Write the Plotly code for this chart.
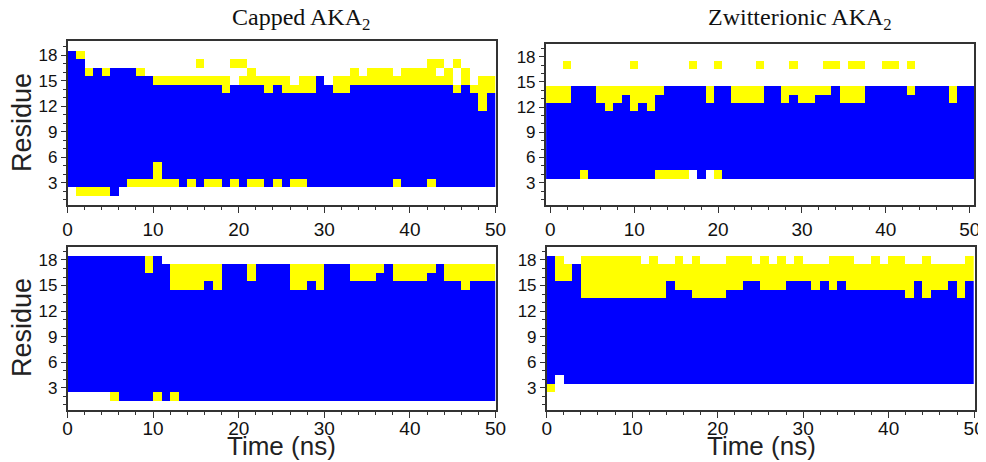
import plotly.graph_objects as go

# Secondary-structure maps: '.' = none (white), 'y' = yellow state, 'b' = blue (helix)
# Rows are residues 19 (top) ... 1 (bottom); columns are time frames (1 ns each).
residues = list(range(19, 0, -1))
state_code = {'.': 0, 'y': 1, 'b': 2}

capped_run1 = [
    "..........""..........""..........""..........""..........",  # 19
    "by........""..........""..........""..........""..........",  # 18
    "bb........"".....y...y""y.........""..........""..yy.y....",  # 17
    "bbybybbby."".........."".y........""...y.yyy.y""yyy.y.y...",  # 16
    "bbbbbbbbbb""yyyyyyyyy.""yyyyyy.yyb"".yyyyyyyyy""yyyyy.y.yy",  # 15
    "bbbbbbbbbb""bbbbbbbbyb""bbbybyyyyb""byybbbbbbb""bbbbbybyyy",  # 14
    "bbbbbbbbbb""bbbbbbbbbb""bbbbbbbbbb""bbbbbbbbbb""bbbbbbbbyb",  # 13
    "bbbbbbbbbb""bbbbbbbbbb""bbbbbbbbbb""bbbbbbbbbb""bbbbbbbbyb",  # 12
    "bbbbbbbbbb""bbbbbbbbbb""bbbbbbbbbb""bbbbbbbbbb""bbbbbbbbbb",  # 11
    "bbbbbbbbbb""bbbbbbbbbb""bbbbbbbbbb""bbbbbbbbbb""bbbbbbbbbb",  # 10
    "bbbbbbbbbb""bbbbbbbbbb""bbbbbbbbbb""bbbbbbbbbb""bbbbbbbbbb",  # 9
    "bbbbbbbbbb""bbbbbbbbbb""bbbbbbbbbb""bbbbbbbbbb""bbbbbbbbbb",  # 8
    "bbbbbbbbbb""bbbbbbbbbb""bbbbbbbbbb""bbbbbbbbbb""bbbbbbbbbb",  # 7
    "bbbbbbbbbb""bbbbbbbbbb""bbbbbbbbbb""bbbbbbbbbb""bbbbbbbbbb",  # 6
    "bbbbbbbbbb""ybbbbbbbbb""bbbbbbbbbb""bbbbbbbbbb""bbbbbbbbbb",  # 5
    "bbbbbbbbbb""ybbbbbbbbb""bbbbbbbbbb""bbbbbbbbbb""bbbbbbbbbb",  # 4
    "bbbbbbbyyy""yyybybyyby""byybybyybb""bbbbbbbbyb""bbybbbbbbb",  # 3
    ".yyyyb....""..........""..........""..........""..........",  # 2
    "..........""..........""..........""..........""..........",  # 1
]

zwit_run1 = [  # 51 columns, centred on 0..50 ns
    "..........""..........""..........""..........""..........""."  ,  # 19
    "..........""..........""..........""..........""..........""."  ,  # 18
    "..y.......""y......y..""y....y...y""...yy.yy..""yy.y......""."  ,  # 17
    "..........""..........""..........""..........""..........""."  ,  # 16
    "..........""..........""..........""..........""..........""."  ,  # 15
    "yyybbbyyyy""yyyybbbbby""bbyyyybbyy""yyyybyyybb""bbbybbbbyb""b"  ,  # 14
    "yyybbbyyyb""yyybbbbbby""bbyyyybbyb""yybbbyyybb""bbbbbbbbyb""b"  ,  # 13
    "bbbbbbbybb""ybybbbbbbb""bbbbbbbbbb""bbbbbbbbbb""bbbbbbbbbb""b"  ,  # 12
    "bbbbbbbbbb""bbbbbbbbbb""bbbbbbbbbb""bbbbbbbbbb""bbbbbbbbbb""b"  ,  # 11
    "bbbbbbbbbb""bbbbbbbbbb""bbbbbbbbbb""bbbbbbbbbb""bbbbbbbbbb""b"  ,  # 10
    "bbbbbbbbbb""bbbbbbbbbb""bbbbbbbbbb""bbbbbbbbbb""bbbbbbbbbb""b"  ,  # 9
    "bbbbbbbbbb""bbbbbbbbbb""bbbbbbbbbb""bbbbbbbbbb""bbbbbbbbbb""b"  ,  # 8
    "bbbbbbbbbb""bbbbbbbbbb""bbbbbbbbbb""bbbbbbbbbb""bbbbbbbbbb""b"  ,  # 7
    "bbbbbbbbbb""bbbbbbbbbb""bbbbbbbbbb""bbbbbbbbbb""bbbbbbbbbb""b"  ,  # 6
    "bbbbbbbbbb""bbbbbbbbbb""bbbbbbbbbb""bbbbbbbbbb""bbbbbbbbbb""b"  ,  # 5
    "bbbbybbbbb""bbbyyyy.b.""ybbbbbbbbb""bbbbbbbbbb""bbbbbbbbbb""b"  ,  # 4
    "..........""..........""..........""..........""..........""."  ,  # 3
    "..........""..........""..........""..........""..........""."  ,  # 2
    "..........""..........""..........""..........""..........""."  ,  # 1
]

capped_run2 = [
    "..........""..........""..........""..........""..........",  # 19
    "bbbbbbbbby""b.........""..........""..........""..........",  # 18
    "bbbbbbbbby""bbyyyyyybb""bybbbbyyyy""bbbyyyybyy""yyybyyyyyy",  # 17
    "bbbbbbbbbb""bbyyyyyybb""bybbbbyyyy""bbbyyybbyy""yybbyyyyyy",  # 16
    "bbbbbbbbbb""bbyyyybybb""bbbbbbyyby""bbbbbbbbbb""bbbbbbybbb",  # 15
    "bbbbbbbbbb""bbbbbbbbbb""bbbbbbbbbb""bbbbbbbbbb""bbbbbbbbbb",  # 14
    "bbbbbbbbbb""bbbbbbbbbb""bbbbbbbbbb""bbbbbbbbbb""bbbbbbbbbb",  # 13
    "bbbbbbbbbb""bbbbbbbbbb""bbbbbbbbbb""bbbbbbbbbb""bbbbbbbbbb",  # 12
    "bbbbbbbbbb""bbbbbbbbbb""bbbbbbbbbb""bbbbbbbbbb""bbbbbbbbbb",  # 11
    "bbbbbbbbbb""bbbbbbbbbb""bbbbbbbbbb""bbbbbbbbbb""bbbbbbbbbb",  # 10
    "bbbbbbbbbb""bbbbbbbbbb""bbbbbbbbbb""bbbbbbbbbb""bbbbbbbbbb",  # 9
    "bbbbbbbbbb""bbbbbbbbbb""bbbbbbbbbb""bbbbbbbbbb""bbbbbbbbbb",  # 8
    "bbbbbbbbbb""bbbbbbbbbb""bbbbbbbbbb""bbbbbbbbbb""bbbbbbbbbb",  # 7
    "bbbbbbbbbb""bbbbbbbbbb""bbbbbbbbbb""bbbbbbbbbb""bbbbbbbbbb",  # 6
    "bbbbbbbbbb""bbbbbbbbbb""bbbbbbbbbb""bbbbbbbbbb""bbbbbbbbbb",  # 5
    "bbbbbbbbbb""bbbbbbbbbb""bbbbbbbbbb""bbbbbbbbbb""bbbbbbbbbb",  # 4
    "bbbbbbbbbb""bbbbbbbbbb""bbbbbbbbbb""bbbbbbbbbb""bbbbbbbbbb",  # 3
    ".....ybbbb""ybybbbbbbb""bbbbbbbbbb""bbbbbbbbbb""bbbbbbbbbb",  # 2
    "..........""..........""..........""..........""..........",  # 1
]

zwit_run2 = [
    "..........""..........""..........""..........""..........",  # 19
    "by..yyyyyy""y.y..y.y.."".yyy.y.y.y""...yyy..y.""yy..y....y",  # 18
    "byybyyyyyy""yyyyyyyyyy""yyyyyyyyyy""yyyyyyyyyy""yyyyyyyyyy",  # 17
    "byybyyyyyy""yyyyyyyyyy""yyyyyyyyyy""yyyyyyyyyy""yyyyyyyyyy",  # 16
    "bbbbyyyyyy""yyyybyyyyy""yyybbyyybb""bybybyyyyy""yyybyyybyb",  # 15
    "bbbbyyyyyy""yyyybbbyyy""ybbbbbbbbb""bbbbbbbbbb""bbybybbbyb",  # 14
    "bbbbbbbbbb""bbbbbbbbbb""bbbbbbbbbb""bbbbbbbbbb""bbbbbbbbbb",  # 13
    "bbbbbbbbbb""bbbbbbbbbb""bbbbbbbbbb""bbbbbbbbbb""bbbbbbbbbb",  # 12
    "bbbbbbbbbb""bbbbbbbbbb""bbbbbbbbbb""bbbbbbbbbb""bbbbbbbbbb",  # 11
    "bbbbbbbbbb""bbbbbbbbbb""bbbbbbbbbb""bbbbbbbbbb""bbbbbbbbbb",  # 10
    "bbbbbbbbbb""bbbbbbbbbb""bbbbbbbbbb""bbbbbbbbbb""bbbbbbbbbb",  # 9
    "bbbbbbbbbb""bbbbbbbbbb""bbbbbbbbbb""bbbbbbbbbb""bbbbbbbbbb",  # 8
    "bbbbbbbbbb""bbbbbbbbbb""bbbbbbbbbb""bbbbbbbbbb""bbbbbbbbbb",  # 7
    "bbbbbbbbbb""bbbbbbbbbb""bbbbbbbbbb""bbbbbbbbbb""bbbbbbbbbb",  # 6
    "bbbbbbbbbb""bbbbbbbbbb""bbbbbbbbbb""bbbbbbbbbb""bbbbbbbbbb",  # 5
    "b.bbbbbbbb""bbbbbbbbbb""bbbbbbbbbb""bbbbbbbbbb""bbbbbbbbbb",  # 4
    "y.........""..........""..........""..........""..........",  # 3
    "..........""..........""..........""..........""..........",  # 2
    "..........""..........""..........""..........""..........",  # 1
]

titles = ["Capped AKA<sub>2</sub>", "Zwitterionic AKA<sub>2</sub>"]
x_ticks = [0, 10, 20, 30, 40, 50]
y_ticks = [3, 6, 9, 12, 15, 18]

BLUE = "#0000FF"
YELLOW = "#FFFF00"
colorscale = [[0, "white"], [0.33, "white"], [0.33, YELLOW], [0.67, YELLOW],
              [0.67, BLUE], [1, BLUE]]


def to_z(rows):
    return [[state_code[c] for c in r] for r in rows]


# The page body has an 8 px default margin, so the figure is drawn 8 px in.
OFF = 8
W, H = 986 - OFF, 462 - OFF


def px(xp):
    return (xp - OFF) / W


def py(yp):
    return 1 - (yp - OFF) / H


panels = [
    # rows, x0, xdomain(screen px), ydomain(screen px top,bottom), xrange, yrange, label standoff
    (capped_run1, 0.5, (67.5, 495.5), (41.3, 205), [0, 50], [0.38, 19.62], 0),
    (zwit_run1, 0.0, (545.7, 974.3), (44.3, 205), [-0.55, 50.55], [0.345, 19.48], 0),
    (capped_run2, 0.5, (67.5, 495.5), (246.7, 410), [0, 50], [0.38, 19.56], -6),
    (zwit_run2, 0.5, (546.7, 975), (246.7, 410), [0, 50.1], [0.38, 19.56], -6),
]

fig = go.Figure()
AX = "#333333"
for i, (rows, x0, xd, yd, xr, yr, so) in enumerate(panels):
    n = i + 1
    xa = "x" if n == 1 else f"x{n}"
    ya = "y" if n == 1 else f"y{n}"
    fig.add_trace(go.Heatmap(
        z=to_z(rows[::-1]), x0=x0, dx=1, y=residues[::-1],
        colorscale=colorscale, zmin=0, zmax=2, showscale=False,
        xaxis=xa, yaxis=ya, hoverinfo="skip"))
    xkey = "xaxis" if n == 1 else f"xaxis{n}"
    ykey = "yaxis" if n == 1 else f"yaxis{n}"
    fig.layout[xkey] = dict(
        domain=[px(xd[0]), px(xd[1])], range=xr, anchor=ya, automargin=False,
        tickvals=x_ticks, ticks="outside", ticklen=6, tickwidth=1, tickcolor=AX,
        ticklabelstandoff=so,
        minor=dict(dtick=2, tick0=0, ticks="outside", ticklen=3, tickcolor=AX, showgrid=False),
        showline=True, mirror=True, linecolor=AX, linewidth=1.5,
        showgrid=False, zeroline=False,
        tickfont=dict(family="Liberation Sans", size=19, color="#111"))
    fig.layout[ykey] = dict(
        domain=[py(yd[1]), py(yd[0])], range=yr, anchor=xa, automargin=False,
        tickvals=y_ticks, ticks="outside", ticklen=5, tickwidth=1, tickcolor=AX,
        minor=dict(dtick=1, tick0=0, ticks="outside", ticklen=3, tickcolor=AX, showgrid=False),
        showline=True, mirror=True, linecolor=AX, linewidth=1.5,
        showgrid=False, zeroline=False,
        tickfont=dict(family="Liberation Sans", size=17, color="#111"))

title_font = dict(family="Liberation Serif", size=24, color="#111")
label_font = dict(family="Liberation Sans", size=27, color="#222")
annotations = [
    dict(text=titles[0], x=px(301), y=py(19), font=title_font,
         xanchor="center", yanchor="middle"),
    dict(text=titles[1], x=px(800), y=py(19), font=title_font,
         xanchor="center", yanchor="middle"),
    dict(text="Residue", x=px(22), y=py(123), textangle=-90, font=label_font,
         xanchor="center", yanchor="middle"),
    dict(text="Residue", x=px(22), y=py(328), textangle=-90, font=label_font,
         xanchor="center", yanchor="middle"),
    dict(text="Time (ns)", x=px(281), y=0, font=dict(label_font, size=26),
         xanchor="center", yanchor="bottom", borderpad=0),
    dict(text="Time (ns)", x=px(761), y=0, font=dict(label_font, size=26),
         xanchor="center", yanchor="bottom", borderpad=0),
]
for a in annotations:
    a.update(xref="paper", yref="paper", showarrow=False)

fig.update_layout(
    width=W, height=H, margin=dict(l=0, r=0, t=0, b=0, pad=0),
    paper_bgcolor="white", plot_bgcolor="white",
    showlegend=False, annotations=annotations)

fig.write_html("out.html")
